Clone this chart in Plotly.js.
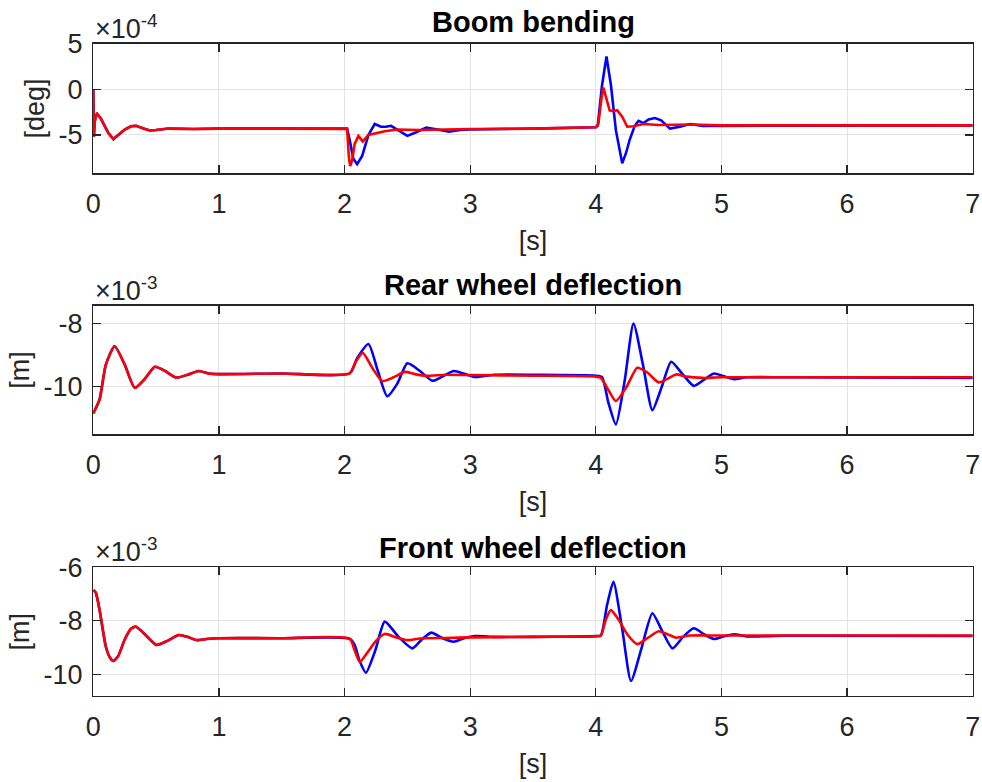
<!DOCTYPE html>
<html>
<head>
<meta charset="utf-8">
<script src="https://cdn.plot.ly/plotly-3.0.1.min.js"></script>
<style>html,body{margin:0;padding:0;background:#fff;}#chart{width:982px;height:782px;}</style>
</head>
<body>
<div id="chart"></div>
<script>
// ---------- DATA ----------
// Boom bending, values in units of 1e-4 deg
const boomBlueT = [0,0.004,0.012,0.02,0.03,0.045,0.06,0.09,0.12,0.16,0.2,0.25,0.3,0.34,0.4,0.45,0.5,0.6,0.8,1.0,1.5,2.02,2.04,2.07,2.10,2.14,2.19,2.24,2.29,2.33,2.37,2.43,2.50,2.57,2.65,2.74,2.83,2.92,3.0,3.5,4.0,4.015,4.05,4.085,4.12,4.16,4.21,4.24,4.27,4.31,4.34,4.38,4.42,4.47,4.52,4.59,4.67,4.75,4.85,5.0,7.0];
const boomBlueV = [0,-5.2,-3.5,-2.9,-2.7,-3.0,-3.2,-4.0,-4.8,-5.45,-5.0,-4.4,-4.05,-4.0,-4.3,-4.5,-4.45,-4.3,-4.35,-4.3,-4.3,-4.3,-5.5,-7.6,-8.2,-7.3,-5.0,-3.8,-4.1,-4.1,-4.0,-4.5,-5.1,-4.7,-4.2,-4.4,-4.65,-4.45,-4.4,-4.3,-4.15,-4.0,0.5,3.6,0.5,-4.5,-8.1,-7.0,-5.5,-4.0,-3.45,-3.7,-3.3,-3.15,-3.4,-4.3,-4.1,-3.8,-4.0,-4.0,-3.95];
const boomRedT = [0,0.004,0.012,0.02,0.03,0.045,0.06,0.09,0.12,0.16,0.2,0.25,0.3,0.34,0.4,0.45,0.5,0.6,0.8,1.0,1.5,2.0,2.02,2.035,2.045,2.06,2.08,2.11,2.145,2.19,2.25,2.32,2.42,2.6,3.0,3.5,4.0,4.02,4.045,4.06,4.08,4.11,4.14,4.17,4.21,4.25,4.3,4.38,4.5,4.6,4.75,5.0,7.0];
const boomRedV = [0,-5.2,-3.5,-2.9,-2.7,-3.0,-3.2,-4.0,-4.8,-5.45,-5.0,-4.4,-4.05,-4.0,-4.3,-4.5,-4.45,-4.3,-4.35,-4.3,-4.3,-4.3,-4.35,-7.5,-8.4,-7.8,-6.0,-5.1,-5.7,-5.0,-4.8,-4.6,-4.4,-4.45,-4.35,-4.3,-4.15,-3.8,-1.0,0.2,-0.8,-2.3,-2.4,-2.3,-3.0,-4.1,-4.05,-3.8,-3.9,-3.9,-3.85,-3.95,-3.95];

// Rear wheel deflection, values in units of 1e-3 m
const rearBlueT = [0,0.05,0.1,0.17,0.25,0.33,0.41,0.49,0.57,0.66,0.75,0.84,0.92,1.0,1.5,2.04,2.10,2.19,2.265,2.34,2.42,2.50,2.60,2.70,2.79,2.87,2.96,3.04,3.2,3.5,4.0,4.05,4.10,4.16,4.23,4.30,4.375,4.45,4.525,4.60,4.69,4.78,4.86,4.94,5.02,5.10,5.2,5.5,7.0];
const rearBlueV = [-10.84,-10.4,-9.3,-8.72,-9.3,-10.03,-9.75,-9.37,-9.5,-9.71,-9.62,-9.5,-9.58,-9.6,-9.58,-9.58,-9.1,-8.65,-9.5,-10.3,-9.9,-9.26,-9.5,-9.81,-9.65,-9.5,-9.6,-9.69,-9.62,-9.62,-9.65,-9.7,-10.5,-11.19,-9.8,-8.0,-9.3,-10.74,-10.0,-9.21,-9.6,-9.97,-9.78,-9.58,-9.67,-9.76,-9.7,-9.7,-9.72];
const rearRedT = [0,0.05,0.1,0.17,0.25,0.33,0.41,0.49,0.57,0.66,0.75,0.84,0.92,1.0,1.5,2.04,2.09,2.145,2.22,2.30,2.39,2.48,2.56,2.65,2.8,3.0,3.5,4.0,4.04,4.1,4.16,4.245,4.33,4.41,4.50,4.57,4.64,4.72,4.85,5.0,7.0];
const rearRedV = [-10.84,-10.4,-9.3,-8.72,-9.3,-10.03,-9.75,-9.37,-9.5,-9.71,-9.62,-9.5,-9.58,-9.6,-9.58,-9.58,-9.2,-8.93,-9.4,-9.82,-9.7,-9.53,-9.6,-9.65,-9.62,-9.63,-9.65,-9.68,-9.72,-10.1,-10.45,-10.0,-9.4,-9.55,-9.86,-9.75,-9.61,-9.68,-9.72,-9.7,-9.7];

// Front wheel deflection, values in units of 1e-3 m
const frontBlueT = [0,0.02,0.05,0.1,0.13,0.16,0.2,0.25,0.3,0.34,0.42,0.50,0.59,0.68,0.75,0.82,0.9,1.0,1.5,2.04,2.08,2.12,2.17,2.245,2.32,2.43,2.54,2.615,2.69,2.78,2.87,2.95,3.04,3.2,3.5,4.0,4.04,4.09,4.14,4.21,4.28,4.365,4.45,4.53,4.61,4.695,4.78,4.86,4.94,5.02,5.10,5.2,5.5,7.0];
const frontBlueV = [-6.85,-6.95,-7.6,-8.97,-9.35,-9.5,-9.3,-8.7,-8.3,-8.22,-8.55,-8.9,-8.75,-8.53,-8.6,-8.72,-8.68,-8.65,-8.65,-8.67,-8.9,-9.5,-9.94,-9.1,-8.03,-8.6,-9.03,-8.7,-8.44,-8.65,-8.78,-8.65,-8.57,-8.6,-8.6,-8.57,-8.55,-7.4,-6.54,-8.3,-10.25,-9.0,-7.72,-8.4,-9.03,-8.6,-8.28,-8.5,-8.68,-8.58,-8.5,-8.58,-8.56,-8.57];
const frontRedT = [0,0.02,0.05,0.1,0.13,0.16,0.2,0.25,0.3,0.34,0.42,0.50,0.59,0.68,0.75,0.82,0.9,1.0,1.5,2.04,2.08,2.12,2.18,2.25,2.32,2.41,2.50,2.6,2.8,3.0,3.5,4.0,4.04,4.08,4.12,4.18,4.25,4.33,4.41,4.50,4.57,4.64,4.75,5.0,7.0];
const frontRedV = [-6.85,-6.95,-7.6,-8.97,-9.35,-9.5,-9.3,-8.7,-8.3,-8.22,-8.55,-8.9,-8.75,-8.53,-8.6,-8.72,-8.68,-8.65,-8.65,-8.67,-9.1,-9.53,-9.2,-8.75,-8.49,-8.62,-8.72,-8.66,-8.64,-8.62,-8.6,-8.58,-8.55,-7.95,-7.60,-7.95,-8.5,-8.87,-8.65,-8.39,-8.5,-8.63,-8.55,-8.55,-8.55];

const xTicks = [0,1,2,3,4,5,6,7];
const boomTicks = [-5,0,5];
const rearTicks = [-10,-8];
const frontTicks = [-10,-8,-6];
const titles = ['Boom bending','Rear wheel deflection','Front wheel deflection'];
const yLabels = ['[deg]','[m]','[m]'];
const xLabel = '[s]';
const exponents = ['×10<sup>-4</sup>','×10<sup>-3</sup>','×10<sup>-3</sup>'];

// ---------- STYLE ----------
const FONT = 'Liberation Sans, Arial, Helvetica, sans-serif';
const AX = '#262626';
const W = 982, H = 782;
const px = v => v / W;
const py = v => 1 - v / H;
const xDom = [px(93.3), px(972.7)];
const plotTops = [43.7, 305.7, 567.3];
const plotBots = [173.3, 434.3, 696];

function line(t, v, color, xa, ya, shape) {
  return {x: t, y: v, type: 'scatter', mode: 'lines', xaxis: xa, yaxis: ya,
          line: {color: color, width: 2.6, shape: shape || 'spline', smoothing: 0.6},
          hoverinfo: 'skip', showlegend: false};
}

const data = [
  line(boomBlueT, boomBlueV, '#0000ff', 'x', 'y', 'linear'),
  line(boomRedT, boomRedV, '#ff0000', 'x', 'y', 'linear'),
  line(rearBlueT, rearBlueV, '#0000ff', 'x2', 'y2'),
  line(rearRedT, rearRedV, '#ff0000', 'x2', 'y2'),
  line(frontBlueT, frontBlueV, '#0000ff', 'x3', 'y3'),
  line(frontRedT, frontRedV, '#ff0000', 'x3', 'y3')
];

function xAxis(i) {
  return {
    domain: xDom, range: [0, 7], anchor: i === 0 ? 'y' : 'y' + (i + 1),
    tickvals: xTicks, ticktext: xTicks.map(String),
    ticks: 'inside', ticklen: 8, tickwidth: 1.2, tickcolor: AX,
    showline: true, linecolor: AX, linewidth: 1.3, mirror: 'ticks',
    showgrid: true, gridcolor: '#e4e4e4', gridwidth: 1, zeroline: false,
    tickfont: {family: FONT, size: 27, color: AX},
    ticklabelstandoff: 6,
    title: {text: xLabel, font: {family: FONT, size: 27, color: AX}, standoff: 13}
  };
}
function yAxis(i, range, ticks) {
  return {
    domain: [py(plotBots[i]), py(plotTops[i])], range: range,
    anchor: i === 0 ? 'x' : 'x' + (i + 1),
    tickvals: ticks, ticktext: ticks.map(String),
    ticks: 'inside', ticklen: 8, tickwidth: 1.2, tickcolor: AX,
    showline: true, linecolor: AX, linewidth: 1.3, mirror: 'ticks',
    showgrid: true, gridcolor: '#e4e4e4', gridwidth: 1, zeroline: false,
    tickfont: {family: FONT, size: 27, color: AX},
    ticklabelstandoff: 4,
    title: {text: yLabels[i], font: {family: FONT, size: 27, color: AX}, standoff: 6}
  };
}

const annotations = [];
const titleY = [22, 285, 548];
for (let i = 0; i < 3; i++) {
  annotations.push({xref: 'paper', yref: 'paper', x: (xDom[0] + xDom[1]) / 2, y: py(titleY[i]),
    xanchor: 'center', yanchor: 'middle', showarrow: false,
    text: '<b>' + titles[i] + '</b>', font: {family: FONT, size: 29, color: '#000'}});
  annotations.push({xref: 'paper', yref: 'paper', x: px(93), y: py(plotTops[i] + 2),
    xanchor: 'left', yanchor: 'bottom', showarrow: false,
    text: exponents[i], font: {family: FONT, size: 27, color: AX}});
}

const layout = {
  width: W, height: H,
  margin: {l: 0, r: 0, t: 0, b: 0},
  paper_bgcolor: '#fff', plot_bgcolor: '#fff',
  showlegend: false,
  xaxis: xAxis(0), xaxis2: xAxis(1), xaxis3: xAxis(2),
  yaxis: yAxis(0, [-9.2, 5], boomTicks),
  yaxis2: yAxis(1, [-11.5, -7.44], rearTicks),
  yaxis3: yAxis(2, [-10.81, -6], frontTicks),
  annotations: annotations
};

Plotly.newPlot('chart', data, layout, {displayModeBar: false, staticPlot: true});
</script>
</body>
</html>
